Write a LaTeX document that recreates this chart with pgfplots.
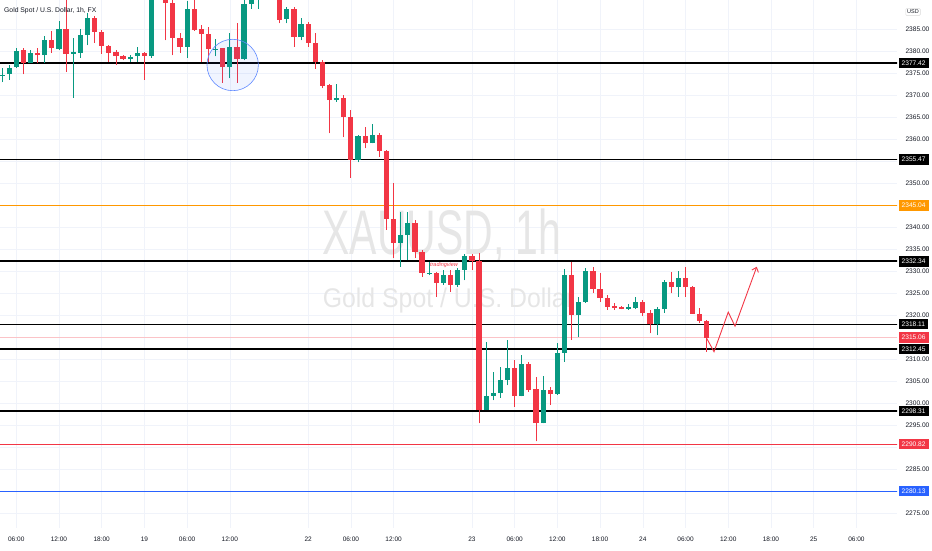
\documentclass[border=0pt]{standalone}
\usepackage{fontspec}
\setmainfont{Liberation Sans}
\usepackage{pgfplots}
\usepackage{pgfplotstable}
\pgfplotsset{compat=1.18}
\usetikzlibrary{arrows.meta}

\definecolor{tvgreen}{HTML}{089981}
\definecolor{tvred}{HTML}{F23645}
\definecolor{tvgrid}{HTML}{F0F3FA}
\definecolor{tvtext}{HTML}{131722}
\definecolor{tvorange}{HTML}{FF9800}
\definecolor{tvblue}{HTML}{2962FF}
\definecolor{wm}{HTML}{E6E6E6}

% hourly candles, i = bar slot
\pgfplotstableread{
i o h l c
0 2374.6 2376.3 2373.1 2374.8
1 2374.9 2377.0 2373.6 2376.3
2 2376.5 2380.8 2376.3 2380.2
4 2377.4 2380.4 2377.4 2379.7
6 2379.2 2383.6 2377.4 2382.6
8 2380.6 2387.0 2380.4 2385.1
10 2379.5 2383.1 2369.5 2379.9
11 2379.7 2385.1 2378.6 2383.8
12 2383.8 2388.8 2381.5 2387.6
18 2378.3 2379.2 2377.6 2378.8
19 2379.0 2381.1 2377.6 2379.7
21 2379.0 2394.0 2378.6 2393.5
22 2393.5 2396.0 2392.8 2395.0
26 2381.1 2391.5 2378.6 2389.7
30 2380.5 2382.9 2379.0 2380.7
32 2376.5 2384.2 2374.0 2381.1
34 2378.3 2392.0 2378.1 2390.8
35 2390.8 2394.0 2389.7 2393.0
36 2393.0 2395.0 2389.7 2394.0
40 2387.4 2390.1 2386.5 2389.7
42 2383.3 2387.7 2382.6 2386.3
47 2369.0 2372.7 2368.6 2369.5
50 2355.4 2361.0 2354.9 2360.8
52 2359.2 2363.6 2359.2 2361.1
56 2336.5 2343.5 2331.1 2338.3
57 2338.3 2343.5 2332.6 2341.0
60 2329.6 2332.2 2329.2 2329.8
62 2327.5 2330.4 2327.0 2329.2
64 2327.0 2330.8 2326.5 2330.4
65 2330.4 2334.0 2328.1 2333.6
68 2298.6 2314.1 2298.6 2301.8
69 2301.8 2307.3 2300.8 2302.4
70 2302.4 2308.4 2301.3 2305.4
71 2305.4 2314.5 2304.2 2308.2
73 2301.7 2311.1 2301.7 2309.0
76 2295.6 2306.3 2295.6 2303.1
78 2302.2 2313.8 2302.0 2311.6
79 2311.6 2330.6 2309.5 2329.2
81 2320.1 2324.3 2315.2 2323.2
82 2323.2 2330.9 2322.9 2330.2
88 2321.6 2322.6 2321.3 2321.9
89 2321.7 2324.2 2321.5 2323.2
92 2318.0 2322.0 2315.6 2321.5
93 2321.5 2328.1 2320.7 2327.7
95 2326.4 2330.2 2324.3 2328.6
}\upcandles

\pgfplotstableread{
i o h l c
3 2380.4 2380.8 2374.9 2377.4
5 2379.7 2380.8 2377.4 2379.2
7 2382.6 2384.7 2379.7 2380.8
9 2385.1 2393.0 2375.4 2379.5
13 2387.6 2388.1 2382.0 2384.5
14 2384.5 2384.9 2379.5 2381.3
15 2381.3 2381.5 2377.6 2379.7
16 2379.9 2380.4 2377.0 2379.0
17 2379.0 2379.2 2378.1 2378.3
20 2379.7 2379.9 2373.6 2379.0
23 2392.5 2393.0 2382.6 2391.1
24 2391.1 2391.7 2379.2 2383.1
25 2383.1 2384.2 2379.7 2381.1
27 2389.7 2392.0 2384.7 2384.9
28 2385.1 2386.1 2377.6 2384.0
29 2384.0 2385.6 2377.6 2380.6
31 2380.8 2380.8 2372.9 2376.5
33 2381.1 2386.5 2372.9 2378.3
37 2396.0 2397.0 2393.0 2394.0
38 2394.0 2395.0 2392.0 2392.5
39 2392.3 2392.8 2386.5 2387.2
41 2389.7 2390.1 2381.1 2383.3
43 2386.3 2386.7 2381.1 2382.0
44 2382.0 2384.2 2376.1 2377.6
45 2377.6 2378.1 2371.7 2372.2
46 2372.4 2372.7 2361.5 2369.0
48 2369.5 2370.2 2360.6 2365.2
49 2365.2 2366.7 2351.3 2355.4
51 2360.8 2362.9 2358.1 2359.2
53 2361.1 2361.5 2356.1 2357.4
54 2357.4 2357.7 2339.5 2342.0
55 2342.0 2350.1 2333.1 2336.5
58 2341.0 2341.7 2333.1 2334.5
59 2334.5 2334.9 2328.8 2329.7
61 2329.8 2329.9 2324.3 2327.5
63 2329.2 2330.4 2325.4 2327.0
66 2333.6 2334.0 2330.4 2332.5
67 2332.5 2334.2 2295.6 2298.6
72 2308.2 2309.9 2299.3 2301.7
74 2309.0 2309.5 2302.7 2303.1
75 2303.3 2306.1 2291.4 2295.6
77 2303.1 2303.8 2299.7 2302.2
80 2329.2 2332.3 2314.5 2320.1
83 2330.2 2331.1 2325.1 2326.1
84 2326.1 2329.7 2323.2 2324.1
85 2324.1 2324.7 2321.3 2322.0
86 2322.3 2322.9 2321.3 2321.7
87 2321.9 2322.1 2321.4 2321.6
90 2323.2 2323.5 2319.9 2320.5
91 2320.5 2321.3 2316.0 2318.0
94 2327.7 2330.0 2325.1 2326.4
96 2328.6 2331.1 2324.3 2326.4
97 2326.6 2326.7 2320.4 2320.4
98 2320.4 2321.7 2318.3 2318.8
99 2318.8 2319.0 2311.8 2315.0
}\downcandles

\pgfplotsset{candle/.style 2 args={only marks, mark=*, mark size=0pt, mark options={draw=none, fill=none},
  error bars/.cd, y dir=both, y explicit, error mark=none, error bar style={line width=#1, #2}}}

\begin{document}
\begin{tikzpicture}
\path[use as bounding box] (0,0) rectangle (932pt,550pt);
\begin{axis}[
  scale only axis, width=897pt, height=528pt,
  at={(0pt,22pt)}, anchor=south west,
  xmin=-0.28, xmax=125.7, ymin=2271.74, ymax=2391.74,
  axis line style={draw=none}, major tick style={draw=none},
  grid=major, major grid style={draw=tvgrid, line width=0.6pt},
  xtick={2,8,14,20,26,32,43,49,55,66,72,78,84,90,96,102,108,114,120},
  xticklabels={06:00,12:00,18:00,19,06:00,12:00,22,06:00,12:00,23,06:00,12:00,18:00,24,06:00,12:00,18:00,25,06:00},
  xticklabel style={font=\fontsize{6.5}{7}\selectfont, text=tvtext, yshift=-5pt},
  ytick={2275,2280,...,2385},
  yticklabels={2275.00,{},2285.00,{},2295.00,2300.00,2305.00,2310.00,{},2320.00,2325.00,2330.00,2335.00,2340.00,{},2350.00,{},2360.00,2365.00,2370.00,2375.00,2380.00,2385.00},
  yticklabel pos=right,
  yticklabel style={font=\fontsize{6.6}{7}\selectfont, text=tvtext, xshift=5pt},
]
% watermark
\node[text=wm, font=\fontsize{63}{63}\selectfont, xscale=0.65] at (axis cs:61.8,2338.2) {XAUUSD, 1h};
\node[text=wm, font=\fontsize{27}{27}\selectfont, xscale=0.92] at (axis cs:62.7,2323.5) {Gold Spot / U.S. Dollar};

% horizontal levels
\addplot[tvblue, line width=0.8pt] coordinates {(-1,2280.13) (127,2280.13)};
\addplot[tvred, line width=0.8pt] coordinates {(-1,2290.82) (127,2290.82)};
\addplot[tvred!30, line width=0.8pt] coordinates {(-1,2315.06) (127,2315.06)};
\addplot[tvorange, line width=0.8pt] coordinates {(-1,2345.04) (127,2345.04)};
\addplot[black, line width=0.9pt] coordinates {(-1,2318.11) (127,2318.11)};
\addplot[black, line width=1.8pt] coordinates {(-1,2377.42) (127,2377.42)};
\addplot[black, line width=1.8pt] coordinates {(-1,2355.47) (127,2355.47)};
\addplot[black, line width=1.8pt] coordinates {(-1,2332.34) (127,2332.34)};
\addplot[black, line width=1.8pt] coordinates {(-1,2312.45) (127,2312.45)};
\addplot[black, line width=1.8pt] coordinates {(-1,2298.31) (127,2298.31)};

% wicks
\addplot[candle={0.8pt}{tvgreen}]
  table[x=i, y=l, y error plus expr=\thisrow{h}-\thisrow{l}, y error minus expr=0] {\upcandles};
\addplot[candle={0.8pt}{tvred}]
  table[x=i, y=l, y error plus expr=\thisrow{h}-\thisrow{l}, y error minus expr=0] {\downcandles};
% bodies
\addplot[candle={5.2pt}{tvgreen}]
  table[x=i, y=o, y error plus expr=\thisrow{c}-\thisrow{o}, y error minus expr=0] {\upcandles};
\addplot[candle={5.2pt}{tvred}]
  table[x=i, y=c, y error plus expr=\thisrow{o}-\thisrow{c}, y error minus expr=0] {\downcandles};

% drawings
\draw[tvblue!75, fill=tvblue, fill opacity=0.07, line width=0.6pt] (axis cs:32.4,2376.97) circle[radius=25.7pt];
\addplot[tvred, line width=0.9pt, -{Straight Barb[length=4pt, width=7pt]}] coordinates {(98.97,2314.85) (100.0,2311.8) (102.0,2320.8) (102.95,2317.6) (106.0,2331.1)};
\node[text=tvred, font=\fontsize{5.5}{5.5}\selectfont\itshape, anchor=west, inner sep=0pt] at (axis cs:60.1,2331.4) {tradingview};

\coordinate (a1) at (axis cs:125.7,2377.42);
\coordinate (a2) at (axis cs:125.7,2355.47);
\coordinate (a3) at (axis cs:125.7,2345.04);
\coordinate (a4) at (axis cs:125.7,2332.34);
\coordinate (a5) at (axis cs:125.7,2318.11);
\coordinate (a6) at (axis cs:125.7,2315.06);
\coordinate (a7) at (axis cs:125.7,2312.45);
\coordinate (a8) at (axis cs:125.7,2298.31);
\coordinate (a9) at (axis cs:125.7,2290.82);
\coordinate (a10) at (axis cs:125.7,2280.13);
\end{axis}

\tikzset{pl/.style={anchor=west, text=white, font=\fontsize{6.6}{7}\selectfont, inner xsep=3pt, inner ysep=0pt, minimum height=10.5pt, xshift=1.5pt}}
\node[pl, fill=black] at (a1) {2377.42};
\node[pl, fill=black] at (a2) {2355.47};
\node[pl, fill=tvorange] at (a3) {2345.04};
\node[pl, fill=black] at (a4) {2332.34};
\node[pl, fill=black] at (a5) {2318.11};
\node[pl, fill=tvred] at (a6) {2315.06};
\node[pl, fill=black] at (a7) {2312.45};
\node[pl, fill=black] at (a8) {2298.31};
\node[pl, fill=tvred] at (a9) {2290.82};
\node[pl, fill=tvblue] at (a10) {2280.13};

\node[draw=black!15, rounded corners=1pt, text=tvtext, font=\fontsize{5.5}{6}\selectfont, inner sep=1.5pt] at (913pt,538pt) {USD};
\node[anchor=west, text=tvtext, font=\fontsize{6.8}{7}\selectfont, inner sep=0pt] at (4pt,539pt) {Gold Spot / U.S. Dollar, 1h, FX};
\end{tikzpicture}
\end{document}
